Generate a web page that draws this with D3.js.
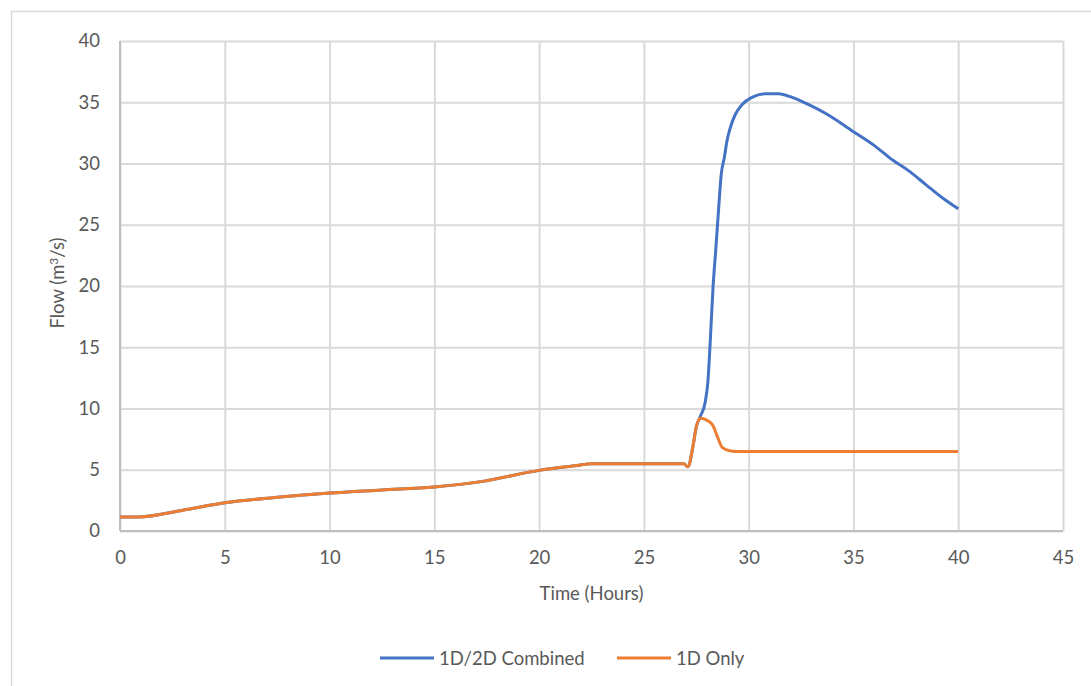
<!DOCTYPE html>
<html>
<head>
<meta charset="utf-8">
<script src="https://cdn.jsdelivr.net/npm/d3@7"></script>
<style>
  body { margin: 0; background: #fff; }
  svg text { font-family: Lato, "Open Sans", sans-serif; fill: #595959; }
</style>
</head>
<body>
<div id="chart"></div>
<script>
// 1D only series (orange)
const timeOneD = [0, 0.9, 3, 5, 7.5, 10, 12.5, 15, 17.3, 20, 21.8, 22.5, 24.5, 26.9, 27.1, 27.34, 27.5, 27.7, 28.05, 28.3, 28.53, 28.75, 29.1, 29.4, 35, 40];
const flowOneD = [1.15, 1.15, 1.7, 2.3, 2.75, 3.1, 3.35, 3.6, 4.05, 4.95, 5.35, 5.5, 5.5, 5.5, 5.25, 6.9, 8.5, 9.2, 9.0, 8.6, 7.6, 6.8, 6.55, 6.5, 6.5, 6.5];

// 1D/2D combined series (blue), same as 1D before the breakout
const timeCombined = [0, 0.9, 3, 5, 7.5, 10, 12.5, 15, 17.3, 20, 21.8, 22.5, 24.5, 26.9, 27.1, 27.34, 27.5, 27.69, 27.93, 28.06, 28.17, 28.3, 28.44, 28.57, 28.69, 28.84, 28.96, 29.12, 29.36, 29.68, 30.16, 30.8, 31.43, 32.07, 32.87, 33.66, 35, 36.05, 36.85, 37.64, 38.44, 39.24, 40];
const flowCombined = [1.15, 1.15, 1.7, 2.3, 2.75, 3.1, 3.35, 3.6, 4.05, 4.95, 5.35, 5.5, 5.5, 5.5, 5.25, 6.9, 8.5, 9.34, 10.56, 12.3, 15.6, 19.9, 23.2, 26.4, 29.1, 30.5, 31.8, 32.9, 34.0, 34.8, 35.4, 35.7, 35.7, 35.4, 34.8, 34.1, 32.6, 31.4, 30.3, 29.4, 28.3, 27.2, 26.3];

const xTicks = [0, 5, 10, 15, 20, 25, 30, 35, 40, 45];
const yTicks = [0, 5, 10, 15, 20, 25, 30, 35, 40];

const seriesNames = ["1D/2D Combined", "1D Only"];
const seriesColors = ["#4472C4", "#ED7D31"];

const W = 1091, H = 686;
const margin = { top: 41, right: 28, bottom: 155, left: 120 };
const width = W - margin.left - margin.right;
const height = H - margin.top - margin.bottom;
const fontSize = 18.5;

const svg = d3.select("#chart")
  .append("svg")
  .attr("width", W)
  .attr("height", H);

// chart frame
svg.append("rect")
  .attr("x", 11.5).attr("y", 11.5)
  .attr("width", W + 20).attr("height", H + 20)
  .attr("fill", "none")
  .attr("stroke", "#d9d9d9")
  .attr("stroke-width", 1.5);

const g = svg.append("g")
  .attr("transform", `translate(${margin.left},${margin.top})`);

const x = d3.scaleLinear().domain([0, 45]).range([0, width]);
const y = d3.scaleLinear().domain([0, 40]).range([height, 0]);

// gridlines
g.append("g")
  .attr("transform", `translate(0,${height})`)
  .call(d3.axisBottom(x).tickValues(xTicks).tickSize(-height).tickFormat(""))
  .call((a) => a.select(".domain").remove())
  .selectAll("line")
  .attr("stroke", "#d9d9d9")
  .attr("stroke-width", 2);

g.append("g")
  .call(d3.axisLeft(y).tickValues(yTicks).tickSize(-width).tickFormat(""))
  .call((a) => a.select(".domain").remove())
  .selectAll("line")
  .attr("stroke", "#d9d9d9")
  .attr("stroke-width", 2);

// axis lines
g.append("line")
  .attr("x1", 0).attr("x2", 0).attr("y1", 0).attr("y2", height)
  .attr("stroke", "#bfbfbf").attr("stroke-width", 2);
g.append("line")
  .attr("x1", 0).attr("x2", width).attr("y1", height).attr("y2", height)
  .attr("stroke", "#bfbfbf").attr("stroke-width", 2);

// tick labels
const xAxis = g.append("g")
  .attr("transform", `translate(0,${height})`)
  .call(d3.axisBottom(x).tickValues(xTicks).tickSize(0).tickPadding(20));
xAxis.select(".domain").remove();
xAxis.selectAll("text").attr("font-size", fontSize).style("font-family", "Lato, sans-serif").attr("fill", "#595959");

const yAxis = g.append("g")
  .call(d3.axisLeft(y).tickValues(yTicks).tickSize(0).tickPadding(20));
yAxis.select(".domain").remove();
yAxis.selectAll("text").attr("font-size", fontSize).style("font-family", "Lato, sans-serif").attr("fill", "#595959");

// axis titles
svg.append("text")
  .attr("x", margin.left + x(22.5))
  .attr("y", 600)
  .attr("text-anchor", "middle")
  .attr("font-size", fontSize)
  .text("Time (Hours)");

svg.append("text")
  .attr("transform", `translate(64,${margin.top + height / 2 - 3}) rotate(-90)`)
  .attr("text-anchor", "middle")
  .attr("font-size", fontSize)
  .html("Flow (m<tspan dy='-6' font-size='12'>3</tspan><tspan dy='6'>/s)</tspan>");

// lines
const line = d3.line()
  .x((d) => x(d[0]))
  .y((d) => y(d[1]))
  .curve(d3.curveMonotoneX);

const combined = timeCombined.map((t, i) => [t, flowCombined[i]]);
const oneD = timeOneD.map((t, i) => [t, flowOneD[i]]);

g.append("path")
  .datum(combined)
  .attr("fill", "none")
  .attr("stroke", seriesColors[0])
  .attr("stroke-width", 3)
  .attr("stroke-linejoin", "round")
  .attr("d", line);

g.append("path")
  .datum(oneD)
  .attr("fill", "none")
  .attr("stroke", seriesColors[1])
  .attr("stroke-width", 3)
  .attr("stroke-linejoin", "round")
  .attr("d", line);

// legend
const legendX = [380, 617];
const legend = svg.append("g");
seriesNames.forEach((name, i) => {
  legend.append("line")
    .attr("x1", legendX[i]).attr("x2", legendX[i] + 54)
    .attr("y1", 658).attr("y2", 658)
    .attr("stroke", seriesColors[i])
    .attr("stroke-width", 3);
  legend.append("text")
    .attr("x", legendX[i] + 59)
    .attr("y", 665)
    .attr("font-size", fontSize)
    .text(name);
});
</script>
</body>
</html>
